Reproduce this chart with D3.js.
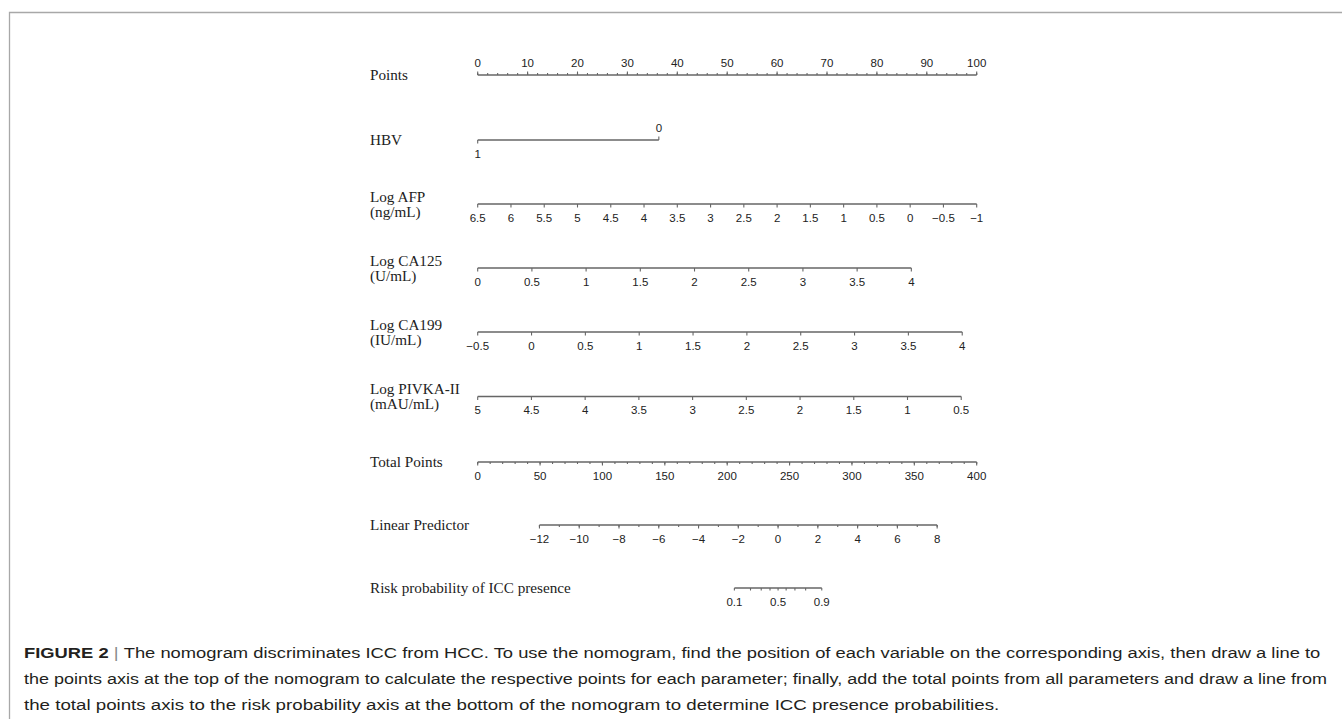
<!DOCTYPE html>
<html><head><meta charset="utf-8">
<script src="https://cdn.jsdelivr.net/npm/d3@7/dist/d3.min.js"></script>
<style>body{margin:0;background:#fff}svg{display:block}</style>
</head><body>
<svg id="c" width="1342" height="719"></svg>
<script>
// ---------------- data ----------------
const pointsTicks = [0,10,20,30,40,50,60,70,80,90,100];
const pointsMinor = [0,2,4,6,8,10,12,14,16,18,20,22,24,26,28,30,32,34,36,38,40,42,44,46,48,50,52,54,56,58,60,62,64,66,68,70,72,74,76,78,80,82,84,86,88,90,92,94,96,98,100];

const hbvLevels = [1, 0];
const hbvPoints = [0, 36.3];

const afpTicks = [6.5,6,5.5,5,4.5,4,3.5,3,2.5,2,1.5,1,0.5,0,-0.5,-1];
const afpRange = [6.5, -1];
const afpPoints = [0, 100];

const ca125Ticks = [0,0.5,1,1.5,2,2.5,3,3.5,4];
const ca125Range = [0, 4];
const ca125Points = [0, 86.9];

const ca199Ticks = [-0.5,0,0.5,1,1.5,2,2.5,3,3.5,4];
const ca199Range = [-0.5, 4];
const ca199Points = [0, 97.1];

const pivkaTicks = [5,4.5,4,3.5,3,2.5,2,1.5,1,0.5];
const pivkaRange = [5, 0.5];
const pivkaPoints = [0, 96.9];

const totalTicks = [0,50,100,150,200,250,300,350,400];
const totalMinor = [0,10,20,30,40,50,60,70,80,90,100,110,120,130,140,150,160,170,180,190,200,210,220,230,240,250,260,270,280,290,300,310,320,330,340,350,360,370,380,390,400];

const lpTicks = [-12,-10,-8,-6,-4,-2,0,2,4,6,8];
const lpMinor = [-12,-11,-10,-9,-8,-7,-6,-5,-4,-3,-2,-1,0,1,2,3,4,5,6,7,8];
const lpRange = [-12, 8];
const lpTotal = [49.5, 368.3];

const riskTicks = [0.1,0.2,0.3,0.4,0.5,0.6,0.7,0.8,0.9];
const riskLabels = [0.1,0.5,0.9];

const rowLabels = [
  ["Points"], ["HBV"], ["Log AFP","(ng/mL)"], ["Log CA125","(U/mL)"],
  ["Log CA199","(IU/mL)"], ["Log PIVKA-II","(mAU/mL)"], ["Total Points"],
  ["Linear Predictor"], ["Risk probability of ICC presence"]
];

const captionLines = [
  [["FIGURE 2","b"],[" | ","s"],["The nomogram discriminates ICC from HCC. To use the nomogram, find the position of each variable on the corresponding axis, then draw a line to","n"]],
  [["the points axis at the top of the nomogram to calculate the respective points for each parameter; finally, add the total points from all parameters and draw a line from","n"]],
  [["the total points axis to the risk probability axis at the bottom of the nomogram to determine ICC presence probabilities.","n"]]
];

// ---------------- layout ----------------
const rowY = [75, 140, 204, 268, 332, 396.5, 462, 525, 588];
const labelX = 370;
const AX = "#666", TXT = "#222";
const serif = "'Liberation Serif','Times New Roman',serif";
const sans = "'Liberation Sans',Arial,sans-serif";

const svg = d3.select("#c");

// frame
svg.append("path").attr("d", "M9.5,719 V12.5 H1342").attr("fill","none")
  .attr("stroke","#a8a8a8").attr("stroke-width",1.3);

// scales
const ptsX = d3.scaleLinear().domain([0,100]).range([477.7, 976.7]);
const varX = (dom, pts) => d3.scaleLinear().domain(dom).range(pts.map(p => ptsX(p)));
const totalX = d3.scaleLinear().domain([0,400]).range([477.7, 976.7]);
const lpToTotal = d3.scaleLinear().domain(lpRange).range(lpTotal);
const lpX = v => totalX(lpToTotal(v));
const riskX = p => lpX(Math.log(p/(1-p)));

const fmt = v => (v < 0 ? "\u2212" : "") + Math.abs(v);

function drawAxis(y, xf, ends, ticks, opts) {
  const o = Object.assign({dir: 1, len: 3.5, minor: null, minorLen: 2, label: fmt, labelOff: 17.5}, opts);
  const g = svg.append("g").attr("transform", `translate(0,${y})`);
  g.append("line").attr("x1", xf(ends[0])).attr("x2", xf(ends[1]))
    .attr("stroke", AX).attr("stroke-width", 1.3);
  if (o.minor) {
    g.selectAll("line.mn").data(o.minor).join("line").attr("class","mn")
      .attr("x1", d => xf(d)).attr("x2", d => xf(d))
      .attr("y1", 0).attr("y2", o.dir * o.minorLen)
      .attr("stroke", AX).attr("stroke-width", 1.1);
  }
  g.selectAll("line.mj").data(ticks).join("line").attr("class","mj")
    .attr("x1", d => xf(d)).attr("x2", d => xf(d))
    .attr("y1", 0).attr("y2", o.dir * o.len)
    .attr("stroke", AX).attr("stroke-width", 1.1);
  g.selectAll("text").data(ticks).join("text")
    .attr("x", d => xf(d)).attr("y", o.dir > 0 ? o.labelOff : -8)
    .attr("text-anchor","middle").attr("font-family", sans).attr("font-size", 11.5)
    .attr("fill", TXT).text(d => o.label(d));
  return g;
}

// Points
drawAxis(rowY[0], ptsX, [0,100], pointsTicks, {dir:-1, minor: pointsMinor});

// HBV
{
  const hx = varX(hbvLevels, hbvPoints);
  const y = rowY[1];
  const g = svg.append("g").attr("transform", `translate(0,${y})`);
  g.append("line").attr("x1", hx(hbvLevels[0])).attr("x2", hx(hbvLevels[1]))
    .attr("stroke", AX).attr("stroke-width", 1.3);
  g.selectAll("line.t").data(hbvLevels).join("line").attr("class","t")
    .attr("x1", d => hx(d)).attr("x2", d => hx(d))
    .attr("y1", 0).attr("y2", (d,i) => i === 0 ? 3.5 : -3.5)
    .attr("stroke", AX).attr("stroke-width", 1.1);
  g.selectAll("text").data(hbvLevels).join("text")
    .attr("x", d => hx(d)).attr("y", (d,i) => i === 0 ? 18 : -8.5)
    .attr("text-anchor","middle").attr("font-family", sans).attr("font-size", 11.5)
    .attr("fill", TXT).text(d => d);
}

drawAxis(rowY[2], varX(afpRange, afpPoints), afpRange, afpTicks, {});
drawAxis(rowY[3], varX(ca125Range, ca125Points), ca125Range, ca125Ticks, {});
drawAxis(rowY[4], varX(ca199Range, ca199Points), ca199Range, ca199Ticks, {});
drawAxis(rowY[5], varX(pivkaRange, pivkaPoints), pivkaRange, pivkaTicks, {});
drawAxis(rowY[6], totalX, [0,400], totalTicks, {minor: totalMinor});
drawAxis(rowY[7], lpX, lpRange, lpTicks, {minor: lpMinor});
drawAxis(rowY[8], riskX, [riskTicks[0], riskTicks[riskTicks.length-1]], riskTicks,
  {len: 2.5, label: d => riskLabels.includes(d) ? d : "", labelOff: 18});

// row labels
rowLabels.forEach((lines, i) => {
  const y = rowY[i];
  const t = svg.append("text").attr("font-family", serif).attr("font-size", 15.2).attr("fill", TXT);
  if (lines.length === 1) {
    t.append("tspan").attr("x", labelX).attr("y", y + 5).text(lines[0]);
  } else {
    t.append("tspan").attr("x", labelX).attr("y", y - 2.5).text(lines[0]);
    t.append("tspan").attr("x", labelX).attr("y", y + 12.5).text(lines[1]);
  }
});

// caption
const capX = 24, capY = [658, 684, 710], capW = [1297, 1304, 976];
captionLines.forEach((parts, i) => {
  const t = svg.append("text").attr("font-family", sans).attr("font-size", 15.5).attr("fill", "#231f20")
    .attr("transform", `translate(${capX},${capY[i]})`);
  parts.forEach(([s, k]) => {
    const sp = t.append("tspan").text(s);
    if (k === "b") sp.attr("font-weight", "bold");
    if (k === "s") sp.attr("fill", "#888");
  });
  const w = t.node().getComputedTextLength();
  t.attr("transform", `translate(${capX},${capY[i]}) scale(${capW[i]/w},1)`);
});
</script>
</body></html>
